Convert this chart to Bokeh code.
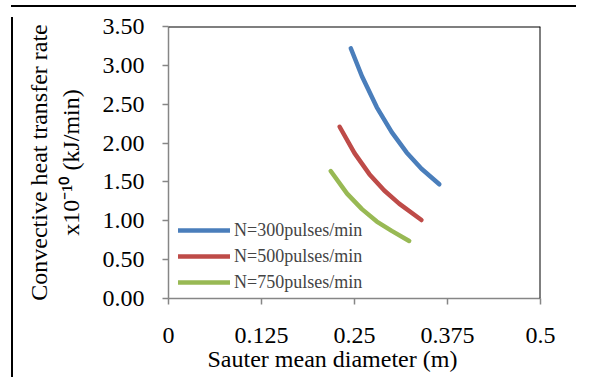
from bokeh.plotting import figure
from bokeh.models import (Range1d, FixedTicker, PrintfTickFormatter, Span, Title,
                          Legend, LegendItem, Div, Spacer)
from bokeh.layouts import row, column
from bokeh.embed import file_html
from bokeh.resources import INLINE

# ---- data ----
x_ticks = [0, 0.125, 0.25, 0.375, 0.5]
x_tick_labels = ["0", "0.125", "0.25", "0.375", "0.5"]
y_ticks = [0, 0.5, 1.0, 1.5, 2.0, 2.5, 3.0, 3.5]

series_names = ["N=300pulses/min", "N=500pulses/min", "N=750pulses/min"]
series_colors = ["#4A7EBB", "#BE4B48", "#98B954"]

x_300 = [0.245, 0.26, 0.28, 0.30, 0.32, 0.34, 0.364]
y_300 = [3.22, 2.86, 2.46, 2.14, 1.88, 1.67, 1.47]
x_500 = [0.230, 0.25, 0.27, 0.29, 0.31, 0.34]
y_500 = [2.21, 1.87, 1.60, 1.39, 1.22, 1.01]
x_750 = [0.218, 0.24, 0.26, 0.28, 0.30, 0.3235]
y_750 = [1.64, 1.35, 1.15, 0.99, 0.87, 0.74]

x_title = "Sauter mean diameter (m)"
y_title = "Convective heat transfer rate\nx10\u207b\u00b9\u2070 (kJ/min)"

FONT = "Liberation Serif"

p = figure(width=560, height=360, output_backend="svg", toolbar_location=None,
           x_range=Range1d(0, 0.5), y_range=Range1d(0, 3.5),
           frame_width=372, frame_height=272,
           min_border_left=150, min_border_right=38,
           min_border_top=14, min_border_bottom=74)
p.background_fill_color = "white"
p.border_fill_color = "white"
p.outline_line_color = None
p.grid.visible = False

for ax in (p.xaxis[0], p.yaxis[0]):
    ax.axis_line_color = "#868686"
    ax.axis_line_width = 1.5
    ax.major_tick_line_color = "#868686"
    ax.major_tick_line_width = 1.5
    ax.major_tick_in = 0
    ax.major_tick_out = 6
    ax.minor_tick_line_color = None
    ax.major_label_text_font = FONT
    ax.major_label_text_font_size = "24px"
    ax.major_label_text_color = "black"

p.xaxis.ticker = FixedTicker(ticks=x_ticks)
p.xaxis.major_label_overrides = {t: l for t, l in zip(x_ticks, x_tick_labels)}
p.xaxis.major_label_standoff = 23
p.yaxis.ticker = FixedTicker(ticks=y_ticks)
p.yaxis.formatter = PrintfTickFormatter(format="%.2f")
p.yaxis.major_label_standoff = 18
p.yaxis.axis_label = y_title
p.yaxis.axis_label_text_font = FONT
p.yaxis.axis_label_text_font_size = "24px"
p.yaxis.axis_label_text_font_style = "normal"
p.yaxis.axis_label_text_color = "black"
p.yaxis.axis_label_standoff = 16

# x title, left-aligned with an offset, as placed in the reference
p.add_layout(Title(text=x_title, align="left", offset=39, standoff=-3,
                   text_font=FONT, text_font_size="24px", text_font_style="normal",
                   text_color="black"), "below")

# top and right plot-area border
p.add_layout(Span(location=3.5, dimension="width", line_color="black", line_width=2))
p.add_layout(Span(location=0.5, dimension="height", line_color="black", line_width=2))

xs = [x_300, x_500, x_750]
ys = [y_300, y_500, y_750]
items = []
for xv, yv, c, name in zip(xs, ys, series_colors, series_names):
    r = p.line(xv, yv, line_color=c, line_width=4.5, line_cap="round")
    items.append(LegendItem(label=name, renderers=[r]))

legend = Legend(items=items, location=(10, 3), orientation="vertical",
                glyph_width=52, glyph_height=26, label_height=26,
                label_standoff=4, spacing=0, padding=0, margin=0,
                label_text_font=FONT, label_text_font_size="18px",
                border_line_color=None, background_fill_alpha=0)
p.add_layout(legend)

top_line = Div(text="", width=565, height=2, styles={"background-color": "black"})
left_line = Div(text="", width=2, height=360, styles={"background-color": "black"})
layout = row(Spacer(width=6, height=362),
             column(top_line, row(left_line, p, spacing=0), spacing=0),
             spacing=0)

open("out.html", "w").write(file_html(layout, INLINE))
